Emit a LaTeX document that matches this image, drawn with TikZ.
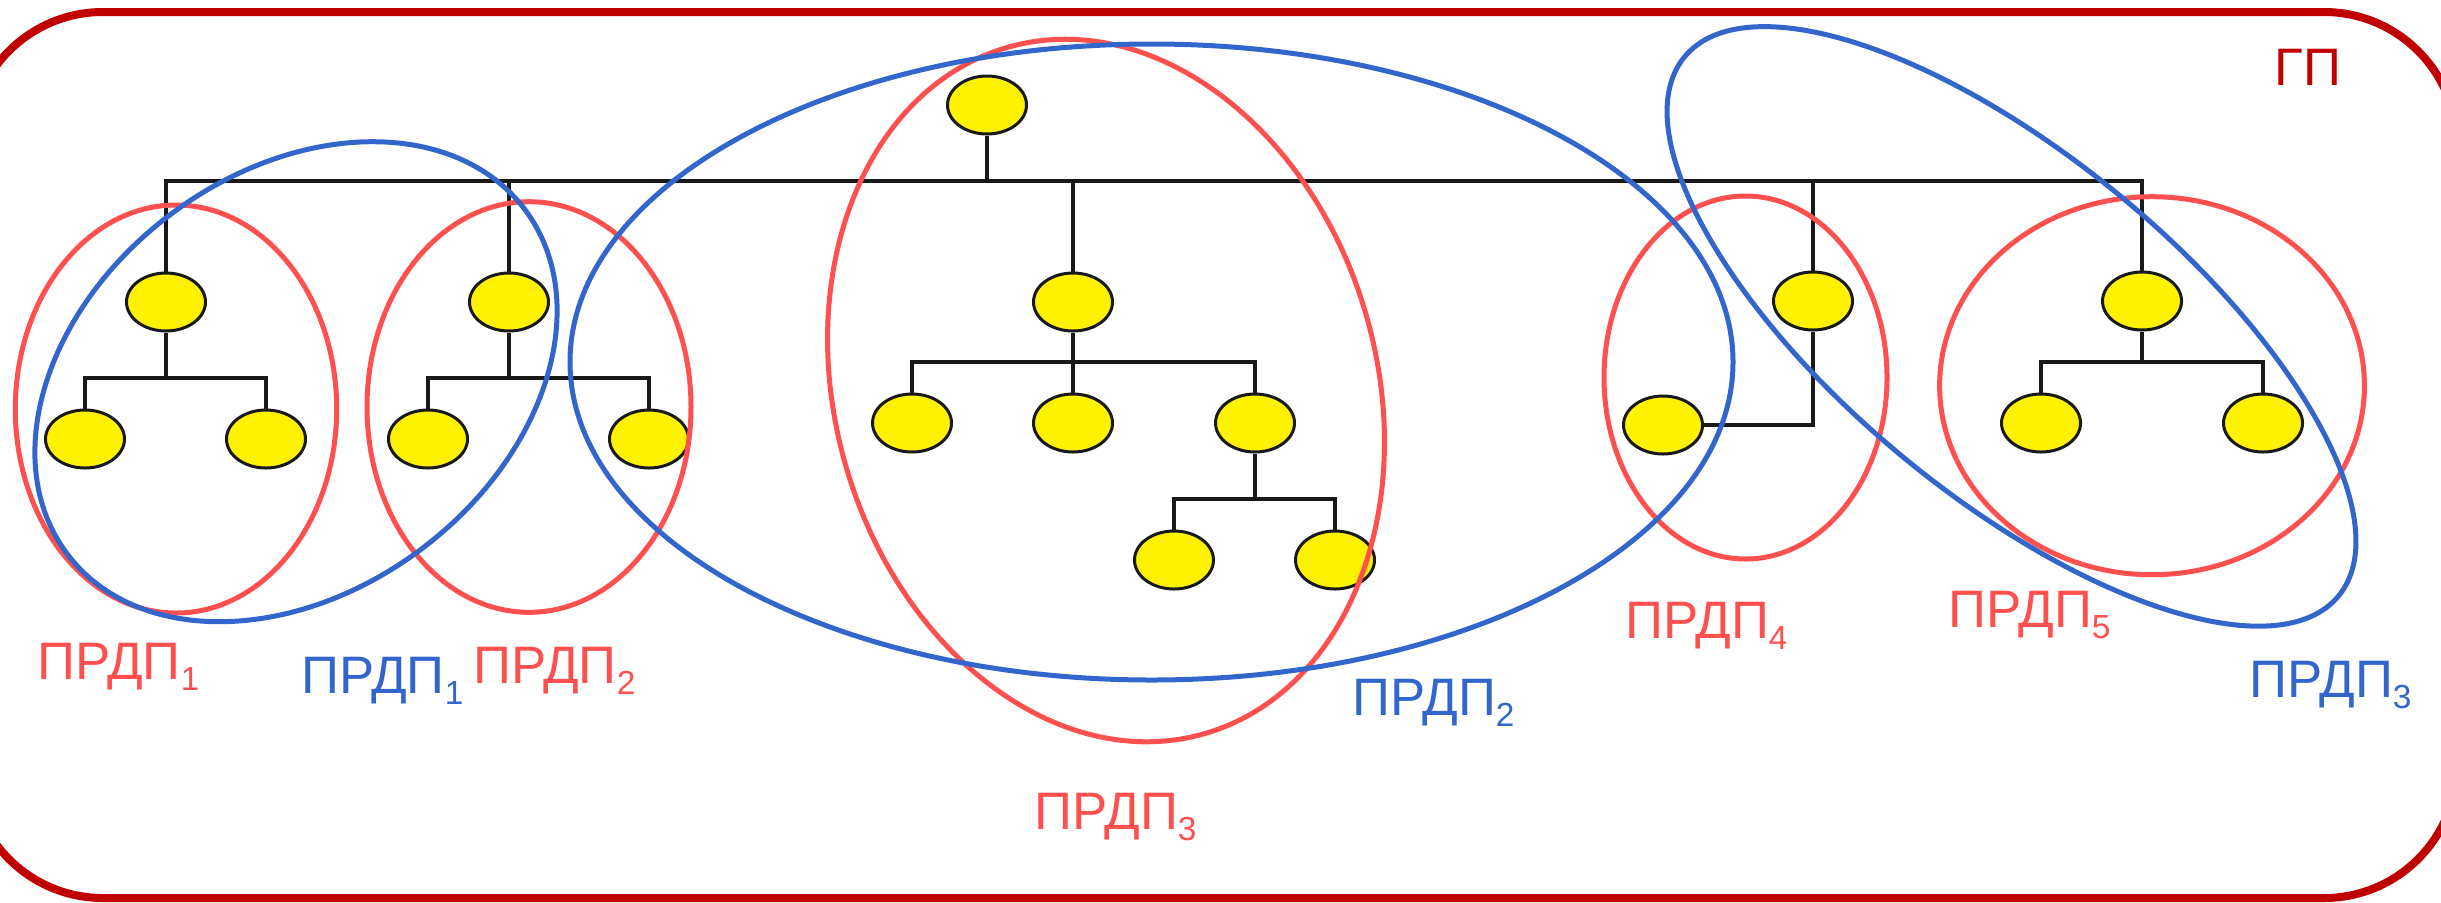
\documentclass[tikz,border=0pt]{standalone}
\usepackage{fontspec}
\setmainfont{Liberation Sans}
\usepackage{tikz}
\usetikzlibrary{shapes.geometric}
\definecolor{gpred}{HTML}{C00000}
\definecolor{ovred}{HTML}{FF5050}
\definecolor{ovblue}{HTML}{3366CC}

\begin{document}
\begin{tikzpicture}[x=0.1mm,y=-0.1mm,
  vert/.style={ellipse,draw=black!90,line width=0.3mm,fill=yellow,minimum width=7.9mm,minimum height=5.8mm,inner sep=0pt},
  edge/.style={line width=0.33mm,black!90},
  redov/.style={line width=0.5mm,ovred},
  blueov/.style={line width=0.5mm,ovblue},
  lab/.style={anchor=base west,inner sep=0pt,font=\fontsize{15}{18}\selectfont}]
\useasboundingbox (0,0) rectangle (2441,902);
\clip (0,0) rectangle (2441,902);
\fill[white] (0,0) rectangle (2441,902);
\draw[gpred,line width=0.8mm,rounded corners=13.3mm] (-30,12) rectangle (2457,898);
% tree
\node[vert] (r) at (987,105) {};
\node[vert] (a) at (166,302) {};
\node[vert] (b) at (509,302) {};
\node[vert] (c) at (1073,302) {};
\node[vert] (d) at (1813,301) {};
\node[vert] (e) at (2142,301) {};
\node[vert] (a1) at (85,439) {};
\node[vert] (a2) at (266,439) {};
\node[vert] (b1) at (428,439) {};
\node[vert] (b2) at (649,439) {};
\node[vert] (c1) at (912,423) {};
\node[vert] (c2) at (1073,423) {};
\node[vert] (c3) at (1255,423) {};
\node[vert] (c31) at (1174,560) {};
\node[vert] (c32) at (1335,560) {};
\node[vert] (d1) at (1663,425) {};
\node[vert] (e1) at (2041,423) {};
\node[vert] (e2) at (2263,423) {};
\coordinate (jr) at (987,181);
\coordinate (ja) at (166,378);
\coordinate (jb) at (509,378);
\coordinate (jc) at (1073,362);
\coordinate (jc3) at (1255,499);
\coordinate (je) at (2142,362);
\draw[edge] (a.north) |- (jr) -| (e.north);
\draw[edge] (r.south) -- (jr);
\foreach \n in {b,c,d} {
    \draw[edge] (\n.north) -- (\n.north |- jr);
}
\draw[edge] (a.south) -- (ja);
\draw[edge] (a1.north) |- (ja) -| (a2.north);
\draw[edge] (b.south) -- (jb);
\draw[edge] (b1.north) |- (jb) -| (b2.north);
\draw[edge] (c.south) -- (c2.north);
\draw[edge] (c1.north) |- (jc) -| (c3.north);
\draw[edge] (c3.south) -- (jc3);
\draw[edge] (c31.north) |- (jc3) -| (c32.north);
\draw[edge] (d.south) |- (d1.east);
\draw[edge] (e.south) -- (je);
\draw[edge] (e1.north) |- (je) -| (e2.north);
% groups
\draw[redov] (176,409) ellipse [x radius=16.07mm,y radius=20.4mm];
\draw[redov] (529,407) ellipse [x radius=16.2mm,y radius=20.53mm];
\draw[redov,rotate around={16:(1106,390.5)}] (1106,390.5) ellipse [x radius=27.09mm,y radius=35.7mm];
\draw[redov] (1745.5,377.5) ellipse [x radius=14.15mm,y radius=18.15mm];
\draw[redov] (2152,385.7) ellipse [x radius=21.24mm,y radius=18.9mm];
\draw[blueov,rotate around={37:(296,381.7)}] (296,381.7) ellipse [x radius=28.64mm,y radius=20.91mm];
\draw[blueov] (1151.5,362) ellipse [x radius=58.15mm,y radius=31.8mm];
\draw[blueov,rotate around={-39.5:(2011.5,326.4)}] (2011.5,326.4) ellipse [x radius=42.38mm,y radius=16.98mm];
% labels
\node[lab,ovred] (l1r) at (37,679) {ПРДП\raisebox{-1.1mm}{\fontsize{9.5}{10}\selectfont 1}};
\node[lab,ovblue] (l1b) at (301,693) {ПРДП\raisebox{-1.1mm}{\fontsize{9.5}{10}\selectfont 1}};
\node[lab,ovred] (l2r) at (473,683) {ПРДП\raisebox{-1.1mm}{\fontsize{9.5}{10}\selectfont 2}};
\node[lab,ovblue] (l2b) at (1352,715) {ПРДП\raisebox{-1.1mm}{\fontsize{9.5}{10}\selectfont 2}};
\node[lab,ovred] (l3r) at (1034,829) {ПРДП\raisebox{-1.1mm}{\fontsize{9.5}{10}\selectfont 3}};
\node[lab,ovred] (l4r) at (1625,638) {ПРДП\raisebox{-1.1mm}{\fontsize{9.5}{10}\selectfont 4}};
\node[lab,ovred] (l5r) at (1948,627) {ПРДП\raisebox{-1.1mm}{\fontsize{9.5}{10}\selectfont 5}};
\node[lab,ovblue] (l3b) at (2249,697) {ПРДП\raisebox{-1.1mm}{\fontsize{9.5}{10}\selectfont 3}};
\node[lab,gpred] (gp) at (2274,85) {ГП};
\end{tikzpicture}
\end{document}
